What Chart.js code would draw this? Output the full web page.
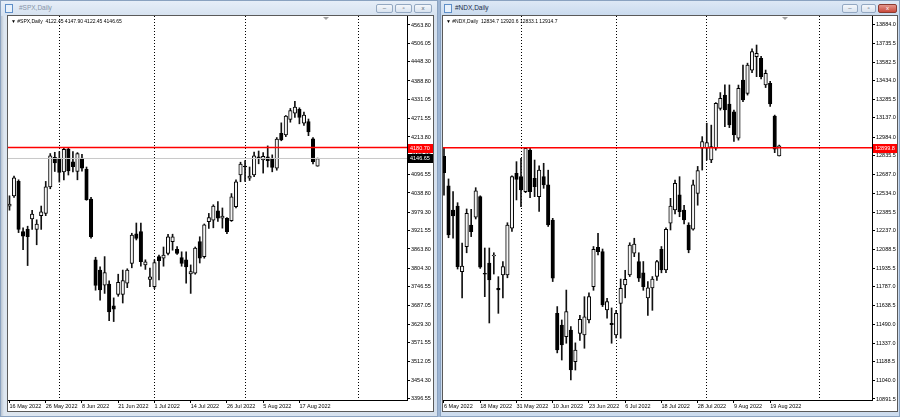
<!DOCTYPE html>
<html><head><meta charset="utf-8">
<script src="https://cdn.jsdelivr.net/npm/chart.js@4.4.0/dist/chart.umd.min.js"></script>
<style>
html,body{margin:0;padding:0;width:900px;height:417px;overflow:hidden;background:#9db5d4;font-family:'Liberation Sans',Arial,sans-serif;}
.win{position:absolute;top:0;height:417px;box-sizing:border-box;border:1px solid #8aa2c0;background:#d3e0ef;}
.tb{position:absolute;left:0;right:0;top:0;height:15px;}
.client{position:absolute;top:15px;height:395px;border:1px solid #5a5a5a;background:#fff;}
.client canvas{position:absolute;left:0;top:0;}
.ttl{position:absolute;top:2px;font-size:6.5px;line-height:10px;white-space:nowrap;}
.ico{position:absolute;top:3px;width:6px;height:7px;border:1px solid #5f8fc8;background:#e8f1fb;}
.btn{position:absolute;top:3px;height:9px;box-sizing:border-box;border:1px solid #93a8c2;border-radius:2px;background:linear-gradient(#f4f7fb,#d9e3ef);font-size:6px;line-height:7px;text-align:center;color:#4a5a70;}
.hdr{position:absolute;top:18px;font-size:5px;line-height:7px;white-space:nowrap;color:#000;}
</style></head>
<body>
<div class="win" style="left:0;width:438px;background:linear-gradient(90deg,#b9c4d1 0,#dde6f0 3px,#d6e1ee 100%);">
  <div class="tb" style="background:linear-gradient(#e6eef8,#d6e2f0);"></div>
  <div class="ico" style="left:4px;"></div>
  <div class="ttl" style="left:18px;color:#8594a8;">#SPX,Daily</div>
  <div class="btn" style="left:375px;width:17px;">–</div>
  <div class="btn" style="left:394px;width:17px;">▫</div>
  <div class="btn" style="left:413px;width:18px;">x</div>
</div>
<div class="win" style="left:440px;width:460px;background:#cddcee;">
  <div class="tb" style="background:linear-gradient(#dde8f5,#c9daee);"></div>
  <div class="ico" style="left:3px;"></div>
  <div class="ttl" style="left:14px;color:#1b2c48;">#NDX,Daily</div>
  <div class="btn" style="left:401px;width:16px;">–</div>
  <div class="btn" style="left:420px;width:15px;">▫</div>
  <div class="btn" style="left:437px;width:19px;background:linear-gradient(#e3968c,#c9493b);border-color:#8c3a30;color:#fff;">x</div>
</div>
<div class="client" style="left:7px;width:425px;"><canvas id="spx" width="425" height="395"></canvas></div>
<div class="client" style="left:442px;width:454px;"><canvas id="ndx" width="454" height="395"></canvas></div>
<div class="hdr" style="left:11px;">▼ #SPX,Daily&nbsp; 4122.45 4147.90 4122.45 4146.65</div>
<div class="hdr" style="left:446px;">▼ #NDX,Daily&nbsp; 12834.7 12920.6 12833.1 12914.7</div>

<script>
// ---------- DATA ----------
const ndxDates = ['6 May 2022','9 May 2022','10 May 2022','11 May 2022','12 May 2022','13 May 2022','16 May 2022','17 May 2022','18 May 2022','19 May 2022','20 May 2022','23 May 2022','24 May 2022','25 May 2022','26 May 2022','27 May 2022','31 May 2022','1 Jun 2022','2 Jun 2022','3 Jun 2022','6 Jun 2022','7 Jun 2022','8 Jun 2022','9 Jun 2022','10 Jun 2022','13 Jun 2022','14 Jun 2022','15 Jun 2022','16 Jun 2022','17 Jun 2022','21 Jun 2022','22 Jun 2022','23 Jun 2022','24 Jun 2022','27 Jun 2022','28 Jun 2022','29 Jun 2022','30 Jun 2022','1 Jul 2022','5 Jul 2022','6 Jul 2022','7 Jul 2022','8 Jul 2022','11 Jul 2022','12 Jul 2022','13 Jul 2022','14 Jul 2022','15 Jul 2022','18 Jul 2022','19 Jul 2022','20 Jul 2022','21 Jul 2022','22 Jul 2022','25 Jul 2022','26 Jul 2022','27 Jul 2022','28 Jul 2022','29 Jul 2022','1 Aug 2022','2 Aug 2022','3 Aug 2022','4 Aug 2022','5 Aug 2022','8 Aug 2022','9 Aug 2022','10 Aug 2022','11 Aug 2022','12 Aug 2022','15 Aug 2022','16 Aug 2022','17 Aug 2022','18 Aug 2022','19 Aug 2022','22 Aug 2022','23 Aug 2022'];
const spxDates = ndxDates.slice(6);

const spxOpen  = [3998,4030,4075,3918,3925,3958,3925,3968,3975,4058,4150,4148,4105,4176,4136,4106,4148,4113,4020,3830,3798,3751,3754,3686,3722,3722,3757,3819,3911,3918,3814,3769,3746,3840,3835,3850,3887,3863,3837,3830,3786,3788,3887,3840,3949,3954,3983,3960,3960,3952,3996,4095,4123,4085,4095,4152,4142,4152,4147,4116,4225,4220,4269,4288,4300,4257,4262,4208,4122.45];
const spxHigh  = [4030,4092,4080,3930,3935,3985,3955,3998,4075,4162,4166,4168,4178,4180,4168,4165,4160,4120,4025,3838,3808,3840,3764,3711,3785,3798,3802,3913,3945,3945,3830,3804,3830,3845,3870,3910,3910,3871,3855,3855,3814,3870,3902,3942,3975,4002,4012,3992,3962,4037,4080,4135,4140,4120,4167,4170,4165,4186,4158,4212,4258,4281,4303,4325,4305,4292,4270,4212,4147.90];
const spxLow   = [3985,4025,3915,3862,3812,3925,3877,3925,3968,4052,4106,4073,4080,4095,4105,4080,4107,4016,3898,3735,3704,3725,3640,3637,3716,3695,3743,3805,3892,3810,3800,3746,3740,3767,3810,3845,3860,3847,3810,3757,3725,3785,3820,3835,3928,3930,3950,3929,3912,3950,3992,4074,4075,4078,4090,4130,4101,4120,4105,4110,4202,4215,4260,4275,4255,4250,4218,4130,4122.45];
const spxClose = [4004,4086,3925,3904,3902,3973,3942,3980,4058,4155,4133,4103,4175,4108,4121,4162,4116,4018,3902,3750,3736,3790,3667,3676,3760,3765,3798,3907,3897,3824,3824,3777,3821,3827,3845,3902,3902,3850,3819,3808,3793,3867,3835,3939,3962,3998,3960,3967,3918,4027,4074,4129,4120,4092,4155,4147,4153,4140,4119,4207,4205,4279,4296,4307,4275,4282,4230,4137,4146.65];

const ndxOpen  = [12830,12594,12402,12434,11909,12108,12282,12344,12508,11896,11977,12034,11776,11882,11883,12256,12695,12668,12548,12881,12655,12508,12668,12602,12322,11576,11483,11390,11443,11190,11416,11403,11523,11789,12104,12069,11603,11497,11403,11656,11803,11883,12056,11989,11900,11700,11780,11870,12088,11922,12296,12402,12522,12402,12282,12248,12535,12895,12895,12801,12895,13214,13321,13249,13187,12975,13440,13334,13520,13627,13614,13401,13414,13153,12834.7];
const ndxHigh  = [12900,12650,12548,12460,12138,12410,12407,12580,12515,12098,12098,12060,11869,11989,12300,12675,12788,12815,12900,12900,12801,12755,12775,12720,12335,11630,11523,11762,11470,11340,11560,11709,11740,12110,12215,12090,11696,11619,11600,11850,11920,12140,12176,12060,11990,11830,11870,12000,12110,12260,12495,12640,12668,12440,12300,12640,12750,12988,13095,13080,13260,13340,13401,13401,13200,13400,13560,13575,13690,13720,13630,13520,13430,13160,12920.6];
const ndxLow   = [12520,12180,12176,11930,11699,12060,12189,12330,11935,11709,11499,11890,11576,11700,11860,12230,12482,12428,12540,12500,12508,12390,12575,12270,11830,11260,11203,11337,11044,11123,11360,11297,11500,11760,12042,11630,11537,11337,11380,11377,11700,11870,12029,11830,11760,11560,11600,11840,11900,11900,12242,12370,12348,12290,12060,12240,12440,12721,12801,12780,12880,13200,13067,13060,12950,12960,13267,13320,13500,13467,13450,13380,13230,12860,12833.1];
const ndxClose = [12700,12202,12354,11949,11954,12375,12228,12554,11944,11888,11843,12042,11763,11949,12282,12668,12647,12562,12895,12548,12588,12721,12602,12282,11856,11283,11323,11590,11123,11283,11528,11549,11709,12088,12069,11643,11669,11486,11576,11776,11848,12122,12130,11856,11790,11780,11850,11990,11922,12248,12434,12615,12388,12322,12082,12602,12716,12948,12940,12908,13254,13294,13201,13081,13001,13374,13281,13560,13667,13654,13467,13494,13249,12887,12914.7];

const spxYTicks = [4563.80,4506.05,4448.30,4388.80,4331.05,4271.55,4213.80,4155.05,4096.55,4038.80,3979.30,3921.55,3863.80,3804.30,3746.55,3687.05,3629.30,3571.55,3512.05,3454.30,3396.55];
const ndxYTicks = [13884.0,13735.5,13582.5,13434.0,13285.5,13137.0,12984.0,12835.5,12687.0,12534.0,12385.5,12237.0,12088.5,11935.5,11787.0,11638.5,11490.0,11337.0,11188.5,11040.0,10891.5];

const ndxMonthStarts = [17, 38, 58, 83];   // 1 Jun, 1 Jul, 1 Aug, 1 Sep
const spxMonthStarts = [11, 32, 52, 77];

const spxAlertLevel = 4180.70, spxBid = 4146.65;
const ndxAlertLevel = 12899.8;

// ---------- CHART BUILDER ----------
Chart.defaults.font.family = "'Liberation Sans', Arial, sans-serif";

const priceTags = {
  id: 'priceTags',
  afterDraw(chart, args, opts) {
    const ctx = chart.ctx, y = chart.scales.y, area = chart.chartArea;
    ctx.save();
    ctx.font = "5.5px 'Liberation Sans', Arial, sans-serif";
    ctx.textBaseline = 'middle';
    for (const t of opts.tags) {
      const py = y.getPixelForValue(t.value);
      ctx.fillStyle = t.bg;
      ctx.fillRect(area.right + 1, Math.round(py) - 4, chart.width - area.right - 1, 9);
      ctx.fillStyle = '#fff';
      ctx.fillText(t.value.toFixed(opts.decimals), area.right + 3, py + 0.5);
    }
    // chart-shift marker
    ctx.fillStyle = '#a0a0a0';
    const mx = opts.shiftX;
    ctx.beginPath(); ctx.moveTo(mx - 3, 1); ctx.lineTo(mx + 3, 1); ctx.lineTo(mx, 4); ctx.closePath(); ctx.fill();
    ctx.restore();
  }
};

function candleChart(id, o) {
  const bodies = o.close.map((c, i) => ({x: i, y: [o.open[i], c]}));
  const wicks = o.close.map((c, i) => ({x: i, y: [o.low[i], o.high[i]]}));
  const bodyFill = o.close.map((c, i) => c >= o.open[i] ? '#f4f4f4' : '#000000');
  const lines = o.levels.map(l => ({
    type: 'line', data: [{x: o.xMin, y: l.value}, {x: o.xMax, y: l.value}],
    borderColor: l.color, borderWidth: l.width, pointRadius: 0, order: 0
  }));
  const labelIdx = o.dates.map((d, i) => i).filter(i => i % 8 === 0);
  return new Chart(document.getElementById(id), {
    type: 'bar',
    data: {datasets: [
      {data: bodies, order: 1, grouped: false, barThickness: 3.5, borderWidth: 1, borderSkipped: false,
       borderColor: '#000', backgroundColor: bodyFill, minBarLength: 1},
      {data: wicks, order: 2, grouped: false, barThickness: 1, borderWidth: 0, backgroundColor: '#111'},
      ...lines
    ]},
    plugins: [priceTags],
    options: {
      animation: false, responsive: false, events: [],
      layout: {padding: 0},
      plugins: {legend: {display: false}, tooltip: {enabled: false},
        priceTags: {tags: o.tags, decimals: o.decimals, shiftX: o.shiftX}},
      scales: {
        x: {type: 'linear', position: 'bottom', min: o.xMin, max: o.xMax, offset: false,
          afterBuildTicks: s => { s.ticks = labelIdx.map(v => ({value: v})); },
          afterFit: s => { s.height = 11; s.paddingLeft = 0; s.paddingRight = 0; },
          ticks: {autoSkip: false, maxRotation: 0, minRotation: 0, align: 'start', padding: 0,
            font: {size: 5.5}, color: '#000', callback: v => o.dates[v]},
          grid: {drawOnChartArea: false, drawTicks: true, tickLength: 3, color: '#000', offset: false},
          border: {display: true, color: '#000'}},
        sep: {type: 'linear', position: 'bottom', min: o.xMin, max: o.xMax, offset: false,
          afterBuildTicks: s => { s.ticks = o.seps.map(v => ({value: v})); },
          afterFit: s => { s.height = 0; s.paddingLeft = 0; s.paddingRight = 0; },
          ticks: {display: false},
          grid: {drawOnChartArea: true, drawTicks: false, color: '#000', lineWidth: 1, offset: false},
          border: {display: false, dash: [1, 2]}},
        y: {type: 'linear', position: 'right', min: o.yMin, max: o.yMax,
          afterBuildTicks: s => { s.ticks = o.yTicks.map(v => ({value: v})); },
          afterFit: s => { s.width = o.yWidth; s.paddingTop = 0; s.paddingBottom = 0; },
          ticks: {autoSkip: false, padding: 1, font: {size: 5.5}, color: '#000',
            callback: v => Number(v).toFixed(o.decimals)},
          grid: {drawOnChartArea: false, tickLength: 3, color: '#000'},
          border: {display: true, color: '#000'}}
      }
    }
  });
}

candleChart('spx', {
  dates: spxDates, open: spxOpen, high: spxHigh, low: spxLow, close: spxClose,
  xMin: -0.33, xMax: 87.75, yMin: 3391.9, yMax: 4591.9, yWidth: 26,
  yTicks: spxYTicks, seps: spxMonthStarts, decimals: 2, shiftX: 318,
  levels: [{value: spxBid, color: '#c8c8c8', width: 1}, {value: spxAlertLevel, color: '#ff0000', width: 1.5}],
  tags: [{value: spxAlertLevel, bg: '#ff0000'}, {value: spxBid, bg: '#000000'}]
});
candleChart('ndx', {
  dates: ndxDates, open: ndxOpen, high: ndxHigh, low: ndxLow, close: ndxClose,
  xMin: -0.22, xMax: 94.48, yMin: 10883.5, yMax: 13951.9, yWidth: 25,
  yTicks: ndxYTicks, seps: ndxMonthStarts, decimals: 1, shiftX: 342,
  levels: [{value: ndxAlertLevel, color: '#ff0000', width: 1.5}],
  tags: [{value: ndxAlertLevel, bg: '#ff0000'}]
});
</script>
</body></html>
